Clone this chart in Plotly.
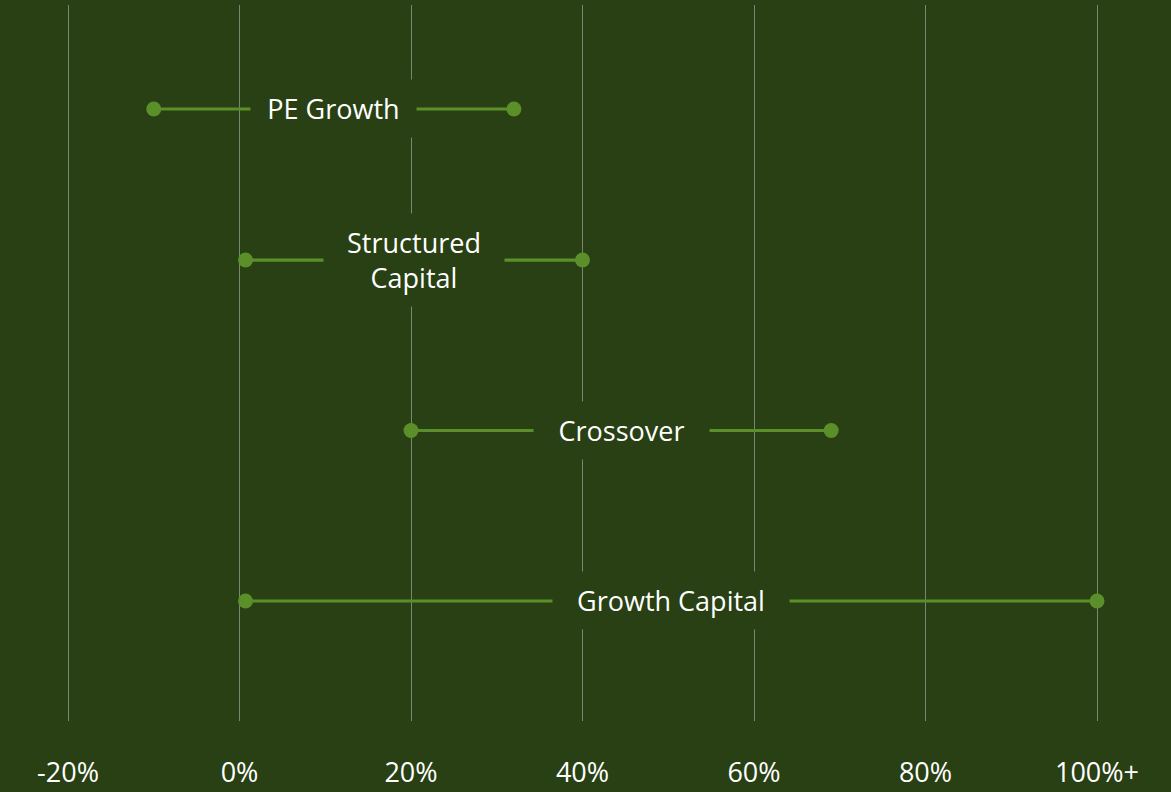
import plotly.graph_objects as go

# Return ranges by strategy (percent); the top of the scale is shown as "100%+"
strategies = ["PE Growth", "Structured<br>Capital", "Crossover", "Growth Capital"]
range_low = [-10, 0.7, 20, 0.7]
range_high = [32, 40, 69, 100]

tick_values = [-20, 0, 20, 40, 60, 80, 100]
tick_labels = ["-20%", "0%", "20%", "40%", "60%", "80%", "100%+"]

# Layout: vertical placement of each row and width of each label box
row_y = [2.886, 2.0, 1.0, 0.0]
label_box_w = [145, 160, 155, 216]

BG = "#284013"
ACCENT = "#5a8f29"
GRID = "#7a8770"
FONT = "Segoe UI, Open Sans, sans-serif"

fig = go.Figure()

for name, lo, hi, y in zip(strategies, range_low, range_high, row_y):
    fig.add_trace(go.Scatter(
        x=[lo, hi], y=[y, y],
        mode="lines+markers",
        line=dict(color=ACCENT, width=3.2),
        marker=dict(color=ACCENT, size=15),
        hoverinfo="skip",
        showlegend=False,
    ))

for name, lo, hi, y, w in zip(strategies, range_low, range_high, row_y, label_box_w):
    fig.add_annotation(
        x=(lo + hi) / 2, y=y,
        text=name,
        showarrow=False,
        font=dict(family=FONT, size=27, color="white"),
        bgcolor=BG,
        borderpad=10,
        width=w,
        align="center",
        xanchor="center", yanchor="middle",
    )

fig.update_xaxes(
    range=[-27.93, 108.63],
    tickvals=tick_values,
    ticktext=tick_labels,
    showgrid=True,
    gridcolor=GRID,
    gridwidth=1.4,
    zeroline=False,
    showline=False,
    ticks="",
    ticklabelstandoff=33,
    tickfont=dict(family=FONT, size=27, color="white"),
    automargin=False,
    fixedrange=True,
)
fig.update_yaxes(
    range=[-0.704, 3.496],
    showgrid=False,
    zeroline=False,
    showline=False,
    showticklabels=False,
    automargin=False,
    fixedrange=True,
)

fig.update_layout(
    width=1171, height=792,
    margin=dict(l=0, r=0, t=5, b=71),
    paper_bgcolor=BG,
    plot_bgcolor=BG,
    font=dict(family=FONT, color="white"),
)

fig.write_html("out.html", config={"displayModeBar": False})
